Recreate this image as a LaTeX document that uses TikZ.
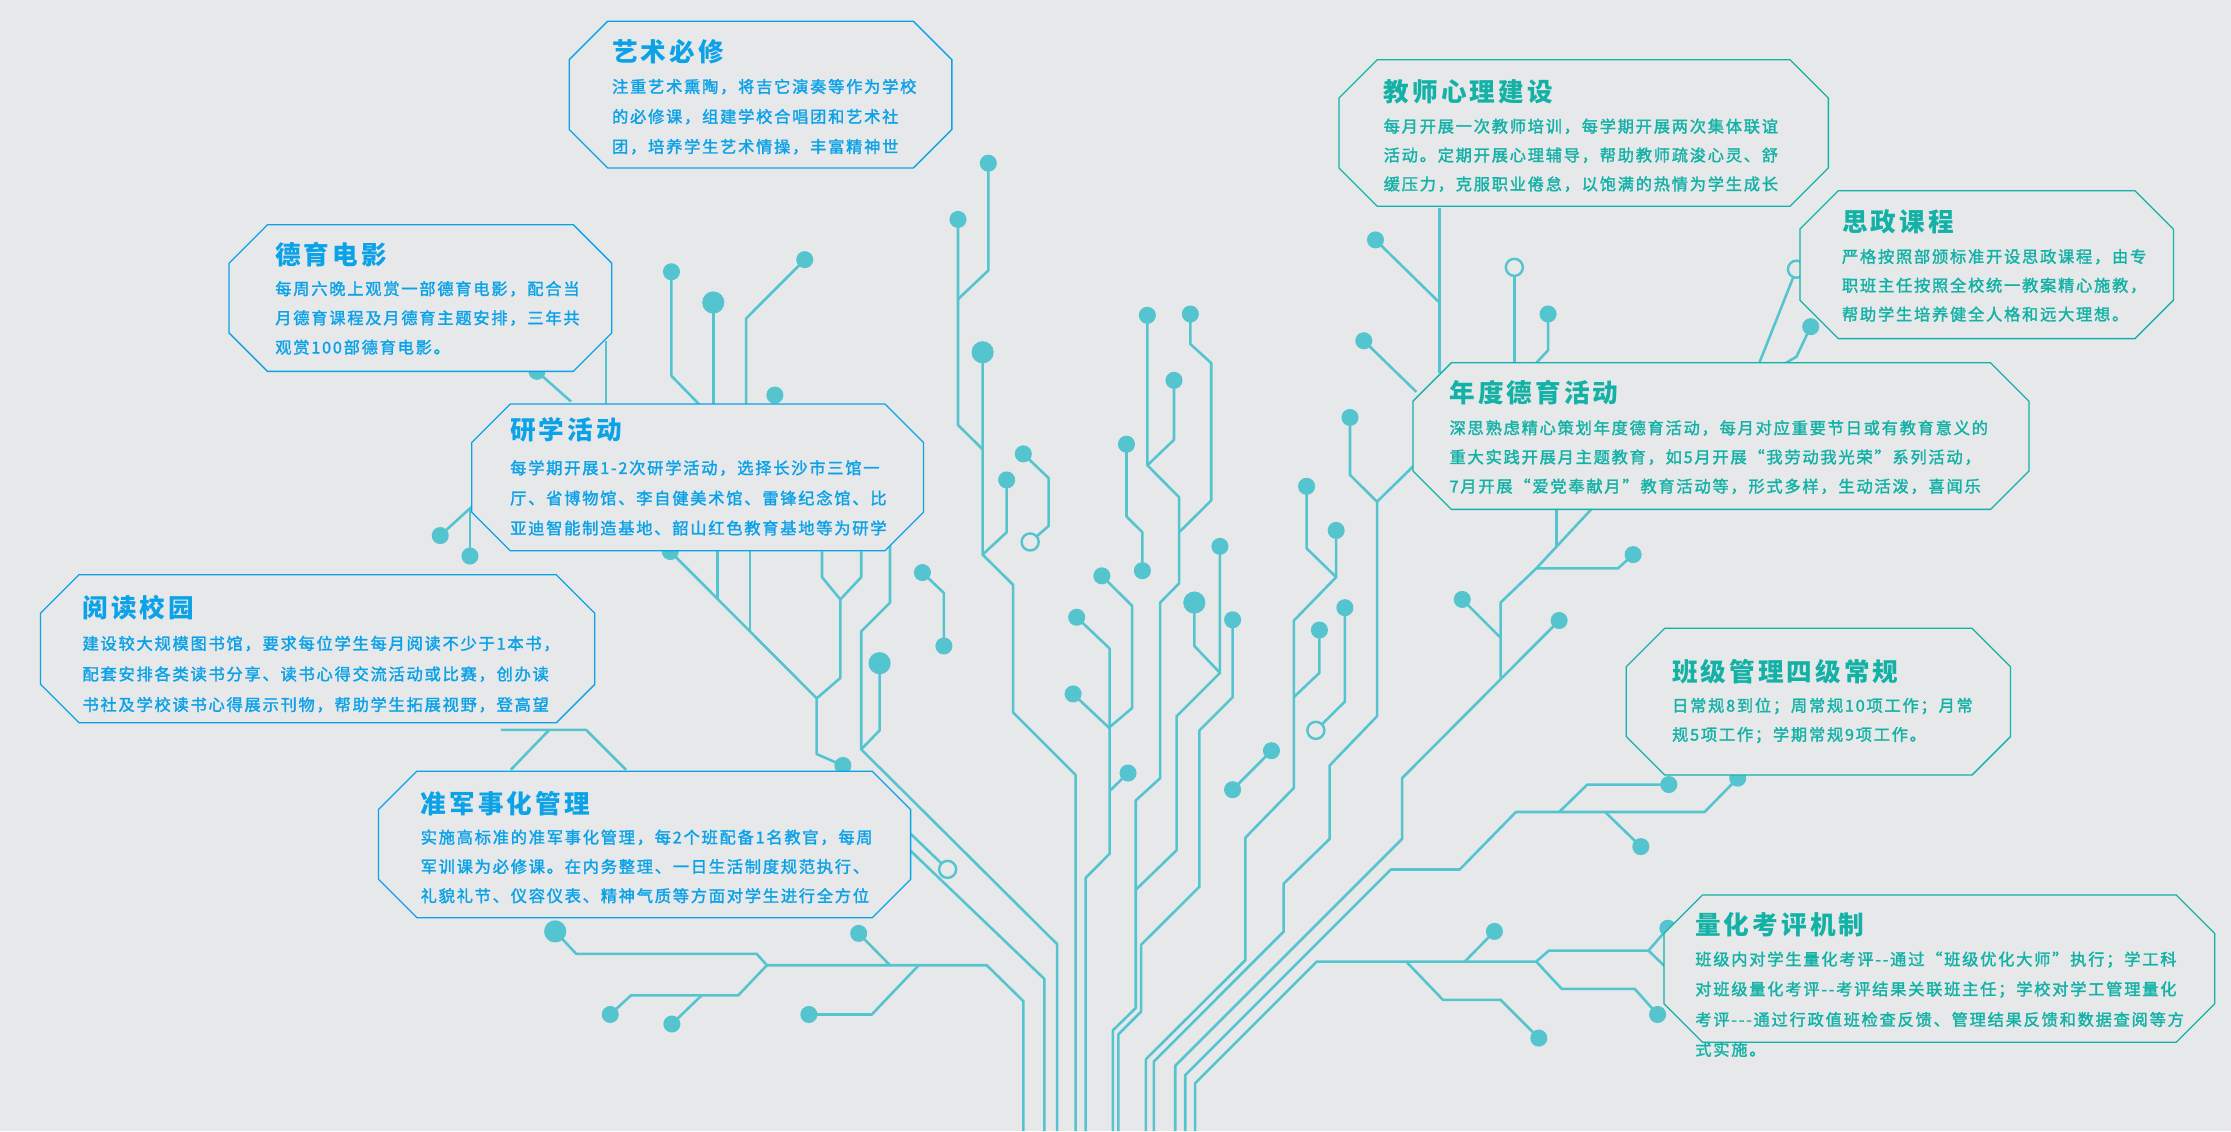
\documentclass[tikz,border=0pt]{standalone}
\usepackage{fontspec}
\newfontfamily\cjk{Noto Sans CJK SC}[LetterSpace=12]
\newfontfamily\cjkbody{Noto Sans CJK SC}[LetterSpace=11, FakeBold=1.8]
\definecolor{BgColor}{RGB}{231,232,234}
\definecolor{TraceColor}{RGB}{84,197,207}
\definecolor{LeftColor}{RGB}{12,162,232}
\definecolor{RightColor}{RGB}{20,178,166}
\newcommand{\ptitlefont}{\cjk\bfseries\fontsize{18}{20}\selectfont}
\newcommand{\pbodyfont}{\cjkbody\fontsize{11.4}{13}\selectfont}
\tikzset{
  trace/.style={draw=TraceColor, line width=1.8pt, line join=round},
  pad/.style={fill=TraceColor},
  ring/.style={draw=TraceColor, line width=1.7pt, fill=BgColor},
  panel/.style={draw=#1, line width=0.9pt, fill=BgColor},
  ptitle/.style={font=\ptitlefont, text=#1, anchor=west, inner sep=0pt},
  pbody/.style={font=\pbodyfont, text=#1, anchor=west, inner sep=0pt},
}
% octagon panel: x0, y0, x1, y1, colour
\newcommand{\panelbox}[5]{%
  \draw[panel=#5] (#1+\cf,#2) -- (#3-\cf,#2) -- (#3,#2+\cf) -- (#3,#4-\cf)
    -- (#3-\cf,#4) -- (#1+\cf,#4) -- (#1,#4-\cf) -- (#1,#2+\cf) -- cycle;}

\begin{document}
\begin{tikzpicture}[x=1pt, y=-1pt]
  \def\cf{27}
  % Background
  \fill[BgColor] (0,0) rectangle (1568,795);
  \useasboundingbox (0,0) rectangle (1568,795);

  % Traces, left part
  \draw[trace] (390.2,654.6) -- (405,670.4) -- (531.8,670.4) -- (539,678.4) -- (693.5,678.4) -- (719.3,703.7) -- (719.3,795);
  \draw[trace] (539,678.4) -- (518.9,699.5) -- (443.5,699.5) -- (428.9,713);
  \draw[trace] (493.2,699.5) -- (472.2,719.7);
  \draw[trace] (568.5,713) -- (612.7,713) -- (645.7,678.4);
  \draw[trace] (603.5,656) -- (625.5,678.4);
  \draw[trace] (640,598) -- (734,688) -- (734,795);
  \draw[trace] (640,586) -- (666,611);
  \draw[trace] (625.5,383) -- (625.5,423.5) -- (605.3,443.7) -- (605.3,526.7) -- (743,663.6) -- (743,795);
  \draw[trace] (618.2,466.1) -- (618.2,513.3) -- (605.3,526.7);
  \draw[trace] (690.6,247.6) -- (690.6,389.8) -- (712,411) -- (712,500.7) -- (756,544.7) -- (756,795);
  \draw[trace] (673.3,154.2) -- (673.3,298.7) -- (690.6,315.8);
  \draw[trace] (694.6,114.7) -- (694.6,190.1) -- (673.3,210.3);
  \draw[trace] (707.5,337.3) -- (707.5,374.1) -- (690.6,389.8);
  \draw[trace] (719.2,319) -- (737,336) -- (737,369.7) -- (724,380.9);
  \draw[trace] (774.4,404.7) -- (795.7,425.8) -- (795.7,497.6) -- (779.9,511);
  \draw[trace] (756.7,433.8) -- (779.9,455.8) -- (779.9,600) -- (763,617) -- (763,795);
  \draw[trace] (754.2,487.7) -- (779.9,511.9);
  \draw[trace] (792.8,543.3) -- (779.9,555.9);
  \draw[trace] (471.9,191) -- (471.9,264.2) -- (493.2,286);
  \draw[trace] (501.3,212.6) -- (501.3,286);
  \draw[trace] (565.6,182.5) -- (524.4,223.8) -- (524.4,286);
  \draw[trace] (426,240) -- (426,286);
  \draw[trace] (377.4,261) -- (401.3,282.2);
  \draw[trace] (309.4,376.4) -- (335,353);
  \draw[trace] (330.3,390.8) -- (330.3,356);
  \draw[trace] (471.1,387.6) -- (574,490.8) -- (574,530) -- (592.4,538);
  \draw[trace] (504.2,387.6) -- (504.2,421);
  \draw[trace] (527,387.6) -- (527,443.7);
  \draw[trace] (577.7,387.6) -- (577.7,405.6) -- (590.6,421.3) -- (605.3,405.6) -- (605.3,387.6);
  \draw[trace] (590.6,421.3) -- (590.6,476.5) -- (574,490.8);
  \draw[trace] (648.3,402.4) -- (663.4,416.8) -- (663.4,454);
  \draw[trace] (352,513) -- (412,513) -- (440,541);
  \draw[trace] (359,541) -- (386,513);

  % Traces, right part
  \draw[trace] (806.4,221.6) -- (806.4,327) -- (828.7,349.5) -- (828.7,410) -- (815.4,423.5) -- (815.4,546.9) -- (798.2,562.6) -- (798.2,708.5) -- (782.1,724.2) -- (782.1,795);
  \draw[trace] (825.1,267.3) -- (825.1,309.1) -- (806.4,327);
  \draw[trace] (836.6,220.7) -- (836.6,241.8) -- (851.3,255.2) -- (851.3,351.7) -- (828.7,374.1);
  \draw[trace] (791.7,312.2) -- (791.7,363) -- (802.9,374.1) -- (802.9,401.1);
  \draw[trace] (839.4,423.5) -- (839.4,454) -- (857.4,472.9);
  \draw[trace] (857.4,384) -- (857.4,472.9) -- (826.9,503.4) -- (826.9,597.6) -- (798.2,625.4);
  \draw[trace] (866.3,435.6) -- (866.3,490) -- (843,513.3) -- (843,623.2) -- (802,664) -- (802,711) -- (786,727) -- (786,795);
  \draw[trace] (918.3,341.8) -- (918.3,385.4) -- (939.1,405.6);
  \draw[trace] (939.1,372.8) -- (939.1,405.6) -- (909.4,436.1) -- (909.4,553.7) -- (875.3,588.7) -- (875.3,674.8) -- (805.4,744.4) -- (805.4,795);
  \draw[trace] (927.3,442.8) -- (927.3,472.9) -- (909.4,489.9);
  \draw[trace] (945.2,427.1) -- (945.2,493.1) -- (924.8,513.3);
  \draw[trace] (893.6,527.6) -- (866.3,555);
  \draw[trace] (948.8,293.4) -- (948.8,333.8) -- (967.8,352.6) -- (967.8,503.4) -- (934.5,538) -- (934.5,589.6) -- (902.2,621) -- (902.2,654.7) -- (811,746) -- (811,795);
  \draw[trace] (994,327) -- (967.8,352.6);
  \draw[trace] (1095.8,436.1) -- (985.4,546.9) -- (985.4,589.6) -- (826,749) -- (826,795);
  \draw[trace] (1221.3,546.9) -- (1198,570.7) -- (1065.4,570.7) -- (1025.9,611.1) -- (977.5,611.1) -- (833,755.6) -- (833,795);
  \draw[trace] (1172.2,652.4) -- (1158.6,668.1) -- (1088.6,668.1) -- (1079.7,675.8) -- (925.5,675.8) -- (840,761.3) -- (840,795);
  \draw[trace] (1095.8,570.7) -- (1115.6,551.4) -- (1172.9,551.4);
  \draw[trace] (1128.1,570.7) -- (1153.2,595);
  \draw[trace] (1079.7,675.8) -- (1097.6,695) -- (1148.9,695) -- (1165,713);
  \draw[trace] (1158.6,668.1) -- (1172,681);
  \draw[trace] (1050.3,654.6) -- (1029.5,675.8);
  \draw[trace] (988.3,675.8) -- (1014.1,702.7) -- (1054.6,702.7) -- (1081.5,729.6);
  \draw[trace] (1011.6,146) -- (1011.6,262);
  \draw[trace] (966.7,168.6) -- (1011.6,212.6);
  \draw[trace] (958.5,239.5) -- (995.4,275.4);
  \draw[trace] (1064.3,187.9) -- (1064.3,257);
  \draw[trace] (1088,220.7) -- (1088,246.2) -- (1077.9,257);
  \draw[trace] (1262.6,189.2) -- (1235.7,257);
  \draw[trace] (1272.6,229.6) -- (1262.6,250.7) -- (1251.8,257);
  \draw[trace] (1094,356) -- (1094,384);
  \draw[trace] (1120.2,356) -- (1079.7,399.5) -- (1054.6,423.5) -- (1054.6,476.5);
  \draw[trace] (1079.7,399.5) -- (1137.1,399.5) -- (1147.8,389.8);
  \draw[trace] (1027.7,421.3) -- (1054.6,448.2);

  % Pads and rings
  \foreach \p in {(673.3,154.2), (694.6,114.7), (707.5,337.3), (719.2,319), (648.3,402.4),
      (663.4,454), (471.9,191), (565.6,182.5), (544.6,277.7), (377.4,261), (309.4,376.4),
      (330.3,390.8), (471.1,387.6), (592.4,538), (428.9,713), (472.2,719.7), (568.5,713),
      (603.5,656), (774.4,404.7), (756.7,433.8), (754.2,487.7), (792.8,543.3), (806.4,221.6),
      (825.1,267.3), (836.6,220.7), (791.7,312.2), (802.9,401.1), (857.4,384), (866.3,435.6),
      (918.3,341.8), (939.1,372.8), (927.3,442.8), (945.2,427.1), (893.6,527.6), (866.3,555),
      (948.8,293.4), (1095.8,436.1), (1221.3,546.9), (1172.9,551.4), (1153.2,595),
      (1172.2,652.4), (1165,713), (1050.3,654.6), (1081.5,729.6), (966.7,168.6),
      (958.5,239.5), (1088,220.7), (1272.6,229.6), (1147.8,389.8), (1027.7,421.3)}
    \fill[pad] \p circle (6pt);
  \foreach \p in {(501.3,212.6), (690.6,247.6), (618.2,466.1), (839.4,423.5), (390.2,654.6)}
    \fill[pad] \p circle (7.8pt);
  \foreach \p in {(724,380.9), (666,611), (924.8,513.3), (1064.3,187.9), (1262.6,189.2)}
    \draw[ring] \p circle (6pt);

  % Left panels
  \panelbox{400}{15}{669}{118}{LeftColor}
  \node[ptitle=LeftColor] (yishu) at (430,36.3) {艺术必修};
  \foreach \t [count=\i] in {注重艺术熏陶，将吉它演奏等作为学校,
      的必修课，组建学校合唱团和艺术社, 团，培养学生艺术情操，丰富精神世}
    \node[pbody=LeftColor] (yishu-\i) at (430,39.8+21.1*\i) {\t};

  \panelbox{161}{158}{430}{261}{LeftColor}
  \node[ptitle=LeftColor] (deyu) at (193.3,178.8) {德育电影};
  \foreach \t [count=\i] in {每周六晚上观赏一部德育电影，配合当,
      月德育课程及月德育主题安排，三年共, 观赏100部德育电影。}
    \node[pbody=LeftColor] (deyu-\i) at (193.3,182.5+20.5*\i) {\t};

  \panelbox{331.5}{284}{649}{387}{LeftColor}
  \node[ptitle=LeftColor] (yanxue) at (358.4,302) {研学活动};
  \foreach \t [count=\i] in {每学期开展1-2次研学活动，选择长沙市三馆一,
      厅、省博物馆、李自健美术馆、雷锋纪念馆、比, 亚迪智能制造基地、韶山红色教育基地等为研学}
    \node[pbody=LeftColor] (yanxue-\i) at (358.4,307.8+21.1*\i) {\t};

  \panelbox{28.5}{404}{418}{508}{LeftColor}
  \node[ptitle=LeftColor] (yuedu) at (57.8,427.3) {阅读校园};
  \foreach \t [count=\i] in {建设较大规模图书馆，要求每位学生每月阅读不少于1本书，,
      配套安排各类读书分享、读书心得交流活动或比赛，创办读, 书社及学校读书心得展示刊物，帮助学生拓展视野，登高望}
    \node[pbody=LeftColor] (yuedu-\i) at (57.8,430.8+21.5*\i) {\t};

  \panelbox{266}{542}{640}{645}{LeftColor}
  \node[ptitle=LeftColor] (junshi) at (295.5,564.6) {准军事化管理};
  \foreach \t [count=\i] in {实施高标准的准军事化管理，每2个班配备1名教官，每周,
      军训课为必修课。在内务整理、一日生活制度规范执行、, 礼貌礼节、仪容仪表、精神气质等方面对学生进行全方位}
    \node[pbody=LeftColor] (junshi-\i) at (295.5,568+20.5*\i) {\t};

  % Right panels
  \panelbox{941}{42}{1285}{145}{RightColor}
  \node[ptitle=RightColor] (jiaoshi) at (972.3,64.4) {教师心理建设};
  \foreach \t [count=\i] in {每月开展一次教师培训，每学期开展两次集体联谊,
      活动。定期开展心理辅导，帮助教师疏浚心灵、舒, 缓压力，克服职业倦怠，以饱满的热情为学生成长}
    \node[pbody=RightColor] (jiaoshi-\i) at (972.3,68.5+20.3*\i) {\t};

  \panelbox{1265}{134}{1527.5}{238}{RightColor}
  \node[ptitle=RightColor] (sizheng) at (1294.4,155.8) {思政课程};
  \foreach \t [count=\i] in {严格按照部颁标准开设思政课程，由专,
      职班主任按照全校统一教案精心施教，, 帮助学生培养健全人格和远大理想。}
    \node[pbody=RightColor] (sizheng-\i) at (1294.4,160.2+20.2*\i) {\t};

  \panelbox{993}{255}{1426}{358}{RightColor}
  \node[ptitle=RightColor] (niandu) at (1018.6,276.2) {年度德育活动};
  \foreach \t [count=\i] in {深思熟虑精心策划年度德育活动，每月对应重要节日或有教育意义的,
      重大实践开展月主题教育，如5月开展“我劳动我光荣”系列活动，, 7月开展“爱党奉献月”教育活动等，形式多样，生动活泼，喜闻乐}
    \node[pbody=RightColor] (niandu-\i) at (1018.6,280.3+20.5*\i) {\t};

  \panelbox{1143}{441.6}{1413}{544.7}{RightColor}
  \node[ptitle=RightColor] (banji) at (1175,472.1) {班级管理四级常规};
  \foreach \t [count=\i] in {日常规8到位；周常规10项工作；月常, 规5项工作；学期常规9项工作。}
    \node[pbody=RightColor] (banji-\i) at (1175,475.8+20.4*\i) {\t};

  \panelbox{1169.5}{629}{1556.5}{732.5}{RightColor}
  \node[ptitle=RightColor] (lianghua) at (1191.3,650) {量化考评机制};
  \foreach \t [count=\i] in {班级内对学生量化考评-{}-通过“班级优化大师”执行；学工科,
      对班级量化考评-{}-考评结果关联班主任；学校对学工管理量化,
      考评-{}-{}-通过行政值班检查反馈、管理结果反馈和数据查阅等方, 式实施。}
    \node[pbody=RightColor] (lianghua-\i) at (1191.3,653.5+21*\i) {\t};
\end{tikzpicture}
\end{document}
